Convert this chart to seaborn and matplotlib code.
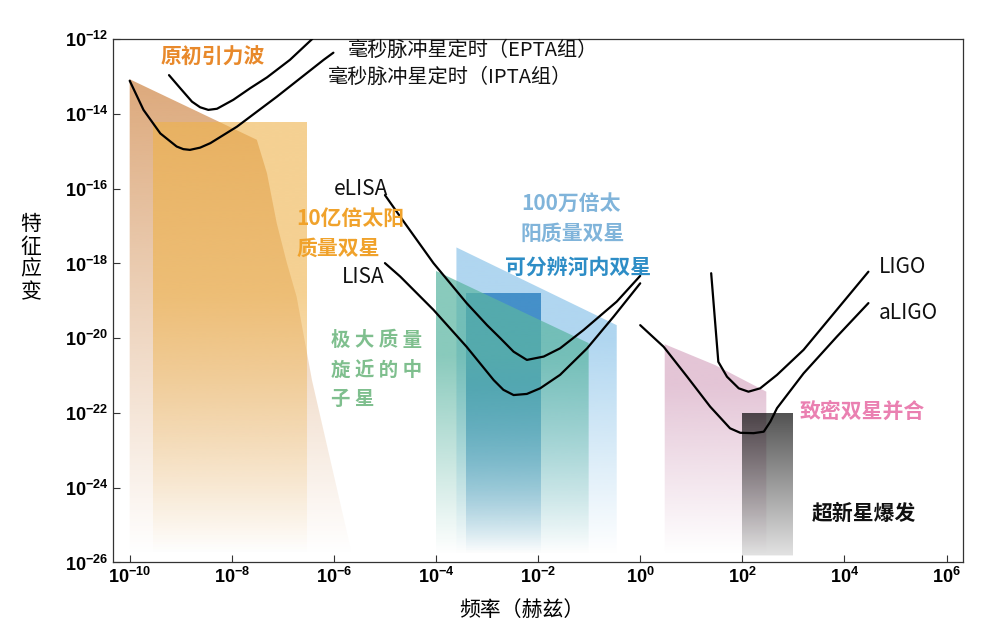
import numpy as np
import pandas as pd
import matplotlib
matplotlib.use("Agg")
import matplotlib.pyplot as plt
import matplotlib.ticker as mticker
import seaborn as sns
from matplotlib.patches import Polygon
from matplotlib.colors import to_rgb

# detector sensitivity curves: log10 frequency (Hz), log10 characteristic strain
epta_logf = [-9.23, -9.01, -8.78, -8.62, -8.46, -8.29, -7.97, -7.64, -7.31, -6.86, -6.43, -6.20]
epta_logh = [-12.96, -13.31, -13.67, -13.82, -13.89, -13.86, -13.62, -13.31, -13.02, -12.55, -12.00, -11.60]
ipta_logf = [-10.00, -9.73, -9.40, -9.08, -8.95, -8.82, -8.62, -8.42, -7.90, -7.12, -6.20, -6.01]
ipta_logh = [-13.11, -13.89, -14.52, -14.87, -14.94, -14.96, -14.90, -14.78, -14.34, -13.54, -12.55, -12.36]
elisa_logf = [-5.00, -4.70, -4.05, -3.40, -3.00, -2.74, -2.48, -2.22, -1.89, -1.57, -1.11, -0.46, 0.00]
elisa_logh = [-16.17, -16.75, -17.99, -19.06, -19.65, -20.00, -20.36, -20.58, -20.49, -20.27, -19.78, -19.02, -18.33]
lisa_logf = [-5.00, -4.70, -4.05, -3.40, -2.87, -2.68, -2.48, -2.22, -1.96, -1.57, -1.04, -0.52, 0.00]
lisa_logh = [-17.99, -18.35, -19.24, -20.23, -21.12, -21.38, -21.52, -21.49, -21.34, -20.98, -20.27, -19.42, -18.53]
ligo_logf = [1.39, 1.53, 1.70, 1.93, 2.12, 2.35, 2.68, 3.20, 3.85, 4.47]
ligo_logh = [-18.26, -20.63, -21.03, -21.34, -21.43, -21.34, -20.98, -20.31, -19.24, -18.22]
aligo_logf = [0.00, 0.46, 0.92, 1.37, 1.76, 1.96, 2.22, 2.42, 2.55, 2.68, 3.20, 3.85, 4.47]
aligo_logh = [-19.65, -20.23, -21.03, -21.83, -22.41, -22.53, -22.54, -22.50, -22.23, -21.87, -20.94, -19.96, -19.06]

# source regions: top outline (log10 f, log10 h), closed down to the bottom axis
primordial_logf = [-10.00, -7.51, -7.31, -7.12, -6.92, -6.73, -6.43, -5.65, -5.60]
primordial_logh = [-13.07, -14.69, -15.59, -16.92, -17.99, -18.89, -21.12, -25.75, -26.00]
smbh_logf = [-9.54, -6.53]
smbh_logh = [-14.21, -14.21]
mbh_logf = [-3.60, -0.46]
mbh_logh = [-17.57, -19.65]
emri_logf = [-4.00, -1.01]
emri_logh = [-18.20, -20.13]
galactic_logf = [-3.41, -1.95]
galactic_logh = [-18.80, -18.80]
compact_logf = [0.48, 1.47, 2.47]
compact_logh = [-20.16, -20.72, -21.43]
supernova_logf = [2.00, 3.00]
supernova_logh = [-22.00, -22.00]

x_tick_exp = [-10, -8, -6, -4, -2, 0, 2, 4, 6]
y_tick_exp = [-26, -24, -22, -20, -18, -16, -14, -12]

YMIN, YMAX = 1e-26, 1e-12
XMIN, XMAX = 10 ** -10.32, 10 ** 6.33

sns.set_theme(style="ticks")
plt.rcParams['font.family'] = ['Noto Sans CJK SC', 'DejaVu Sans']
plt.rcParams['mathtext.fontset'] = 'custom'
plt.rcParams['mathtext.rm'] = 'Liberation Sans'
plt.rcParams['mathtext.bf'] = 'Liberation Sans:bold'

fig = plt.figure(figsize=(9.9, 6.33), dpi=100)
ax = fig.add_axes([0.1145, 0.1114, 0.8586, 0.8266])

curves = [(epta_logf, epta_logh), (ipta_logf, ipta_logh),
          (elisa_logf, elisa_logh), (lisa_logf, lisa_logh),
          (ligo_logf, ligo_logh), (aligo_logf, aligo_logh)]
for lf, lh in curves:
    sns.lineplot(x=10.0 ** np.array(lf), y=10.0 ** np.array(lh), sort=False,
                 estimator=None, color='black', lw=1.6, ax=ax, zorder=10)

ax.set_xscale('log')
ax.set_yscale('log')
ax.set_xlim(XMIN, XMAX)
ax.set_ylim(YMIN, YMAX)
ax.autoscale(False)


def gradient_fill(lf, lh, color, alpha, knee=1.0, floor=0.0, z=1, open_right=False):
    xs = list(10.0 ** np.array(lf))
    ys = list(10.0 ** np.array(lh))
    if open_right:
        verts = list(zip(xs, ys)) + [(xs[0], YMIN)]
    else:
        verts = [(xs[0], YMIN)] + list(zip(xs, ys)) + [(xs[-1], YMIN)]
    poly = Polygon(verts, closed=True, transform=ax.transData,
                   facecolor='none', edgecolor='none')
    ax.add_patch(poly)
    top = ax.transAxes.inverted().transform(ax.transData.transform((xs[0], max(ys))))[1]
    yy = np.linspace(0, 1, 800)
    t = np.clip((yy - 0.015) / (top - 0.015) / knee, 0, 1)
    a = alpha * (floor + (1 - floor) * t)
    a[yy < 0.012] = 0
    img = np.zeros((800, 1, 4))
    img[..., :3] = to_rgb(color)
    img[:, 0, 3] = a
    im = ax.imshow(img, extent=(0, 1, 0, 1), transform=ax.transAxes, origin='lower',
                   aspect='auto', interpolation='bilinear', zorder=z)
    im.set_clip_path(poly)


gradient_fill(primordial_logf, primordial_logh, '#D4935A', 0.8, knee=1.0, z=1, open_right=True)
gradient_fill(smbh_logf, smbh_logh, '#EFB24A', 0.6, knee=0.6, z=2)
gradient_fill(mbh_logf, mbh_logh, '#8EC5EA', 0.7, knee=0.7, z=1)
gradient_fill(galactic_logf, galactic_logh, '#2A7FC0', 0.8, knee=0.65, z=2)
gradient_fill(emri_logf, emri_logh, '#5BB5A2', 0.72, knee=0.7, z=3)
gradient_fill(compact_logf, compact_logh, '#C98BAE', 0.5, knee=0.8, z=1)
gradient_fill(supernova_logf, supernova_logh, '#000000', 0.68, knee=1.0, floor=0.18, z=2)

# ticks
ax.xaxis.set_major_locator(mticker.FixedLocator([10.0 ** e for e in x_tick_exp]))
ax.yaxis.set_major_locator(mticker.FixedLocator([10.0 ** e for e in y_tick_exp]))
ax.xaxis.set_minor_locator(mticker.NullLocator())
ax.yaxis.set_minor_locator(mticker.NullLocator())
fmt = mticker.FuncFormatter(lambda v, _: r'$\mathbf{10^{%d}}$' % int(round(np.log10(v))))
ax.xaxis.set_major_formatter(fmt)
ax.yaxis.set_major_formatter(fmt)
ax.tick_params(axis='both', direction='in', length=5, width=0.8, color='#333333',
               labelsize=13, labelcolor='black')
ax.tick_params(axis='y', pad=3.5)
ax.tick_params(axis='x', pad=3)
for s in ax.spines.values():
    s.set_color('#333333')
    s.set_linewidth(0.9)

ax.set_xlabel('频率（赫兹）', fontsize=15, color='black')
ax.xaxis.set_label_coords(0.48, -0.070)
ax.set_ylabel('特\n征\n应\n变', fontsize=15, rotation=0, va='center', ha='center',
              linespacing=1.05, color='black')
ax.yaxis.set_label_coords(-0.097, 0.582)


def label(txt, lf, lh, color, size=15, weight='bold'):
    ax.text(10 ** lf, 10 ** lh, txt, color=color, fontsize=size, fontweight=weight,
            ha='left', va='center', zorder=20)


label('原初引力波', -9.40, -12.47, '#E8892B')
label('毫秒脉冲星定时（EPTA组）', -5.72, -12.29, '#111111', 14.5, 'normal')
label('毫秒脉冲星定时（IPTA组）', -6.11, -13.01, '#111111', 14.5, 'normal')
label('eLISA', -6.01, -16.00, '#111111', 15, 'normal')
label('LISA', -5.84, -18.36, '#111111', 15, 'normal')
label('10亿倍太阳', -6.74, -16.79, '#F0A22B')
label('质量双星', -6.74, -17.60, '#F0A22B')
label('极 大 质 量', -6.05, -20.05, '#7FBF8E', 14)
label('旋 近 的 中', -6.05, -20.85, '#7FBF8E', 14)
label('子 星', -6.05, -21.63, '#7FBF8E', 14)
label('100万倍太', -2.33, -16.39, '#80B4DA')
label('阳质量双星', -2.35, -17.19, '#80B4DA')
label('可分辨河内双星', -2.64, -18.09, '#2D8DC6')
label('LIGO', 4.67, -18.09, '#111111', 15, 'normal')
label('aLIGO', 4.67, -19.32, '#111111', 15, 'normal')
label('致密双星并合', 3.12, -21.97, '#EA80B1')
label('超新星爆发', 3.35, -24.68, '#111111')

fig.savefig('out.png', dpi=100, facecolor='white')
